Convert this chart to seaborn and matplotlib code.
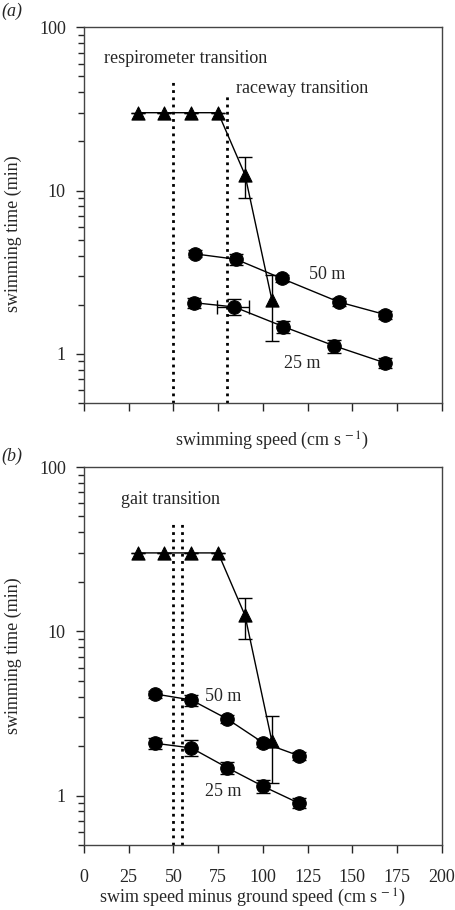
import numpy as np
import pandas as pd
import seaborn as sns
import matplotlib.pyplot as plt

# triangles: same x in both panels
tri_x = [30, 45, 60, 75, 90, 105]
tri_y = [30, 30, 30, 30, 12.5, 2.15]
tri_lo = [0, 0, 0, 0, 3.5, 0.95]
tri_hi = [0, 0, 0, 0, 3.5, 0.9]

# panel (a): swimming speed
a50_x = [62, 85, 110.5, 142.5, 168.5]
a50_y = [4.1, 3.8, 2.9, 2.08, 1.74]
a25_x = [61.5, 84, 111.5, 140, 168.5]
a25_y = [2.06, 1.94, 1.47, 1.12, 0.88]

# panel (b): swim speed minus ground speed
b_x = [40, 60, 80, 100, 120]
b50_y = [4.15, 3.82, 2.93, 2.1, 1.75]
b25_y = [2.08, 1.95, 1.48, 1.14, 0.9]

err50 = [0.2, 0.3, 0.15, 0.12, 0.1]
err25 = [0.15, 0.22, 0.12, 0.1, 0.06]

sns.set_style("ticks")
plt.rcParams["font.family"] = ["Liberation Serif", "DejaVu Serif"]
plt.rcParams["mathtext.fontset"] = "stix"
plt.rcParams["font.size"] = 13

FS = 13

fig = plt.figure(figsize=(4.56, 9.10), dpi=100)
ax_a = fig.add_axes([0.184, 0.557, 0.785, 0.413])
ax_b = fig.add_axes([0.184, 0.0714, 0.785, 0.4154])


def draw(ax, x50, y50, x25, y25):
    df = pd.concat([
        pd.DataFrame({"x": tri_x, "y": tri_y, "g": "tri"}),
        pd.DataFrame({"x": x50, "y": y50, "g": "50"}),
        pd.DataFrame({"x": x25, "y": y25, "g": "25"}),
    ])
    sns.lineplot(data=df, x="x", y="y", units="g", estimator=None, ax=ax,
                 color="black", lw=1, sort=False)
    ax.errorbar(tri_x, tri_y, yerr=[tri_lo, tri_hi], fmt="none",
                ecolor="black", elinewidth=1, capsize=5)
    ax.errorbar(x50, y50, yerr=err50, fmt="none", ecolor="black",
                elinewidth=1, capsize=5)
    ax.errorbar(x25, y25, yerr=err25, fmt="none", ecolor="black",
                elinewidth=1, capsize=5)
    sns.scatterplot(x=tri_x, y=tri_y, marker="^", s=90, color="black",
                    edgecolor="black", ax=ax, zorder=5)
    sns.scatterplot(x=list(x50) + list(x25), y=list(y50) + list(y25),
                    marker="o", s=95, color="black", edgecolor="black",
                    ax=ax, zorder=5)
    ax.set_yscale("log")
    ax.set_ylim(0.5, 100)
    ax.set_xlim(0, 200)
    ax.set_xticks(np.arange(0, 201, 25))
    ax.set_yticks([1, 10, 100])
    ax.set_yticklabels(["1", "10", "100"])
    ax.tick_params(axis="x", which="major", direction="out", length=6,
                   width=1, labelsize=FS, pad=11, top=False)
    ax.tick_params(axis="y", which="major", direction="out", length=6,
                   width=1, labelsize=FS, pad=7, right=False)
    ax.tick_params(axis="y", which="minor", direction="out", length=4,
                   width=1, right=False)
    for s in ax.spines.values():
        s.set_linewidth(1)
        s.set_color("#444444")
        s.set_visible(True)
    ax.set_ylabel("swimming time (min)", fontsize=FS)


dots = (0, (1, 1.6))

# panel (a)
draw(ax_a, a50_x, a50_y, a25_x, a25_y)
ax_a.errorbar([84], [1.94], xerr=[[9.5], [8.5]], fmt="none", ecolor="black",
              elinewidth=1, capsize=5)
ax_a.vlines(50, 0.5, 47, colors="black", linestyles=[dots], lw=2)
ax_a.vlines(80, 0.5, 38, colors="black", linestyles=[dots], lw=2)
ax_a.text(11, 64, "respirometer transition", fontsize=FS, va="center")
ax_a.text(85, 42, "raceway transition", fontsize=FS, va="center")
ax_a.text(136, 3.05, "50 m", fontsize=FS, ha="center", va="center")
ax_a.text(122, 0.88, "25 m", fontsize=FS, ha="center", va="center")
ax_a.set_xticklabels([])
ax_a.set_xlabel("swimming speed (cm s$^{\\,-1}$)", fontsize=FS)
ax_a.xaxis.set_label_coords(0.525, -0.07)
ax_a.yaxis.set_label_coords(-0.172, 0.45)
fig.text(0.002, 0.987, "(a)", fontsize=FS, style="italic", va="center")

# panel (b)
draw(ax_b, b_x, b50_y, b_x, b25_y)
ax_b.vlines(50, 0.5, 47.5, colors="black", linestyles=[dots], lw=2)
ax_b.vlines(55, 0.5, 47.5, colors="black", linestyles=[dots], lw=2)
ax_b.text(20.5, 63, "gait transition", fontsize=FS, va="center")
ax_b.text(78, 4.0, "50 m", fontsize=FS, ha="center", va="center")
ax_b.text(78, 1.06, "25 m", fontsize=FS, ha="center", va="center")
ax_b.set_xticklabels([str(v) for v in range(0, 201, 25)])
ax_b.set_xlabel("swim speed minus ground speed (cm s$^{\\,-1}$)", fontsize=FS)
ax_b.xaxis.set_label_coords(0.47, -0.111)
ax_b.yaxis.set_label_coords(-0.172, 0.5)
fig.text(0.002, 0.498, "(b)", fontsize=FS, style="italic", va="center")

fig.savefig("out.png", dpi=100)
